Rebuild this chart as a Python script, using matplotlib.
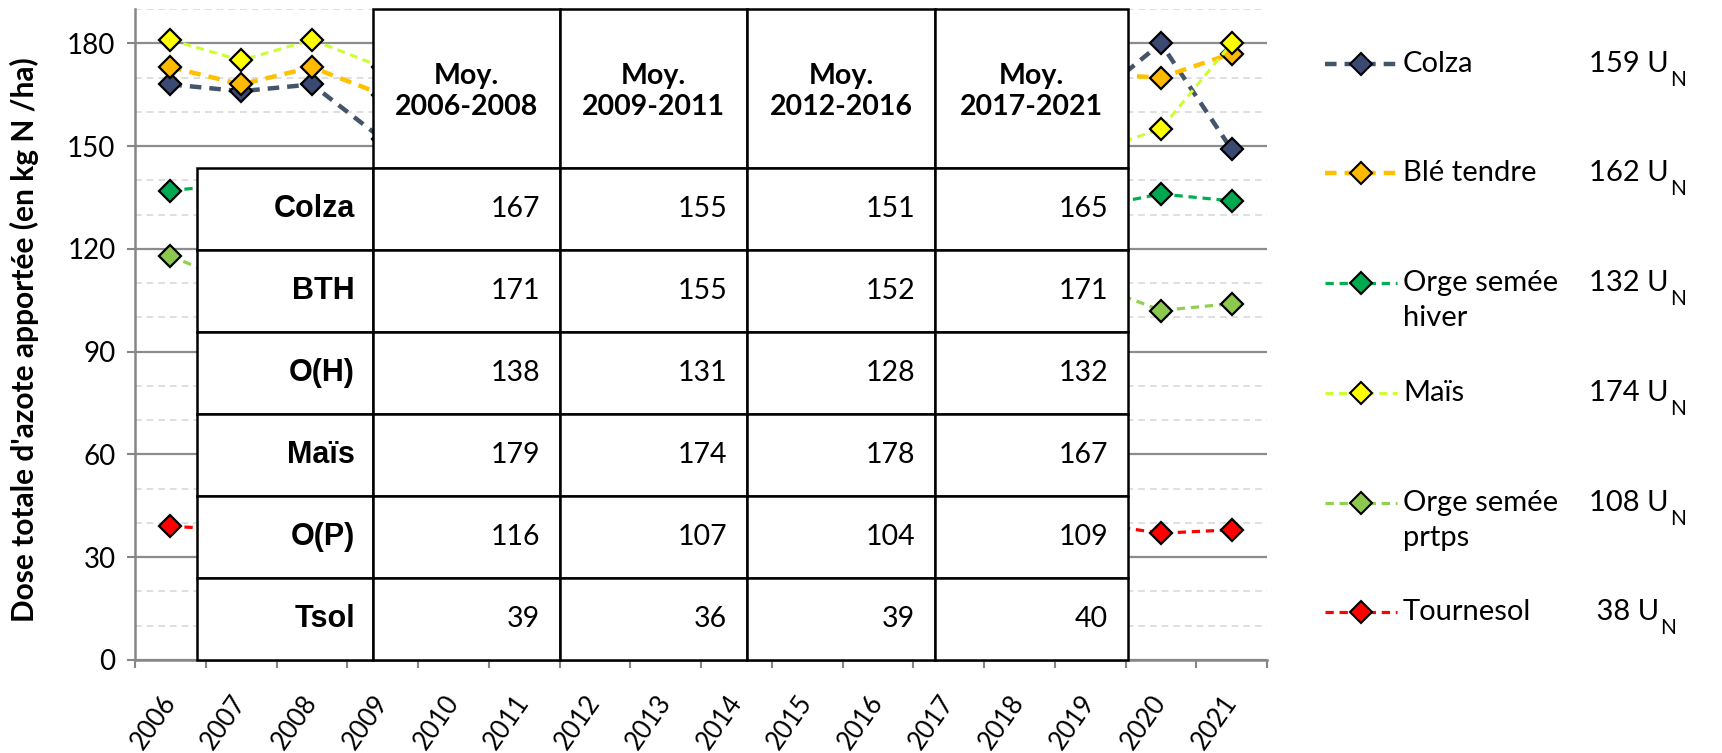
import matplotlib.pyplot as plt
from matplotlib.patches import Rectangle
from matplotlib.ticker import FixedLocator

# --- données ---
years = [str(y) for y in range(2006, 2022)]

colza = [168, 166, 168, 152, 158, 155, 145, 152, 150, 155, 153, 165, 168, 163, 180, 149]
ble = [173, 168, 173, 165, 150, 150, 150, 152, 148, 155, 155, 170, 167, 171, 170, 177]
orge_hiver = [137, 139, 138, 133, 130, 130, 126, 128, 127, 130, 129, 128, 130, 132, 136, 134]
mais = [181, 175, 181, 173, 175, 174, 176, 180, 178, 179, 177, 175, 177, 148, 155, 180]
orge_prtps = [118, 109, 121, 110, 105, 106, 102, 105, 103, 106, 104, 114, 115, 110, 102, 104]
tournesol = [39, 38, 40, 37, 35, 36, 38, 40, 39, 39, 39, 42, 43, 40, 37, 38]

series = [colza, ble, orge_hiver, mais, orge_prtps, tournesol]
series_names = ['Colza', 'Blé tendre', 'Orge semée\nhiver', 'Maïs', 'Orge semée\nprtps', 'Tournesol']
series_means = ['159 U', '162 U', '132 U', '174 U', '108 U', ' 38 U']

# tableau des moyennes
periods = ['Moy.\n2006-2008', 'Moy.\n2009-2011', 'Moy.\n2012-2016', 'Moy.\n2017-2021']
row_labels = ['Colza', 'BTH', 'O(H)', 'Maïs', 'O(P)', 'Tsol']
moy_colza = [167, 155, 151, 165]
moy_bth = [171, 155, 152, 171]
moy_oh = [138, 131, 128, 132]
moy_mais = [179, 174, 178, 167]
moy_op = [116, 107, 104, 109]
moy_tsol = [39, 36, 39, 40]
table_rows = [moy_colza, moy_bth, moy_oh, moy_mais, moy_op, moy_tsol]

# --- styles ---
line_colors = ['#44546A', '#FFC000', '#00B050', '#CCFF33', '#92D050', '#FF0000']
marker_colors = ['#3B4A73', '#FFB900', '#00A84F', '#FFFF00', '#8CC850', '#FF0000']
line_widths = [3.2, 3.2, 2.3, 2.2, 2.3, 2.3]
dash = (0, (2.6, 1.8))
FONT = 'Lato'
plt.rcParams['font.family'] = [FONT, 'DejaVu Sans']

W, H = 1722, 753
fig = plt.figure(figsize=(W / 100, H / 100), dpi=100)
ax = fig.add_axes([135 / W, 1 - 660 / H, (1267 - 135) / W, (660 - 9) / H])

x = list(range(len(years)))
for vals, lc, mc, lw in zip(series, line_colors, marker_colors, line_widths):
    ax.plot(x, vals, color=lc, lw=lw, ls=dash, marker='D', ms=11.5,
            mfc=mc, mec='black', mew=1.6, zorder=3)

ax.set_xlim(-0.5, len(years) - 0.5)
ax.set_ylim(0, 190)
ax.set_yticks(range(0, 181, 30))
ax.yaxis.set_minor_locator(FixedLocator([v for v in range(10, 191, 10) if v % 30]))
ax.grid(True, which='major', axis='y', color='#8C8C8C', lw=1.6)
ax.grid(True, which='minor', axis='y', color='#D9D9D9', lw=1.2, ls=(0, (4, 3)))
ax.set_axisbelow(True)

ax.set_xticks(x)
ax.set_xticklabels(years, rotation=55, ha='right', va='center', rotation_mode='anchor')
ax.xaxis.set_minor_locator(FixedLocator([v - 0.5 for v in range(len(years) + 1)]))
ax.tick_params(axis='x', which='major', length=0, pad=27, labelsize=18.5)
ax.tick_params(axis='x', which='minor', length=6, width=1.5, color='#868686')
ax.tick_params(axis='y', which='major', length=6, width=1.5, color='#868686', labelsize=20, pad=8)
ax.tick_params(axis='y', which='minor', length=0)
for s in ['top', 'right']:
    ax.spines[s].set_visible(False)
for s in ['left', 'bottom']:
    ax.spines[s].set_color('#868686')
    ax.spines[s].set_linewidth(1.8)

# --- couche en pixels pour tableau, légende, titre d'axe ---
ov = fig.add_axes([0, 0, 1, 1])
ov.set_xlim(0, W)
ov.set_ylim(H, 0)
ov.axis('off')
ov.set_facecolor('none')

ov.text(24, 340, "Dose totale d'azote apportée (en kg N /ha)", rotation=90,
        ha='center', va='center', fontsize=21.5, fontweight='bold')

col_edges = [197, 373, 560, 747, 935, 1128]
row_edges = [9, 168, 250, 332, 414, 496, 578, 660]
cell = dict(fc='white', ec='black', lw=1.8, zorder=5)

for j, p in enumerate(periods):
    x0, x1 = col_edges[j + 1], col_edges[j + 2]
    ov.add_patch(Rectangle((x0, row_edges[0]), x1 - x0, row_edges[1] - row_edges[0], **cell))
    ov.text((x0 + x1) / 2, (row_edges[0] + row_edges[1]) / 2 + 3, p, ha='center', va='center',
            fontsize=20.5, fontweight='bold', linespacing=1.25, zorder=6)

for i, (lab, vals) in enumerate(zip(row_labels, table_rows)):
    y0, y1 = row_edges[i + 1], row_edges[i + 2]
    ym = (y0 + y1) / 2
    ov.add_patch(Rectangle((col_edges[0], y0), col_edges[1] - col_edges[0], y1 - y0, **cell))
    ov.text(col_edges[1] - 18, ym, lab, ha='right', va='center', fontsize=22,
            fontweight='bold', family='Liberation Sans', zorder=6)
    for j, v in enumerate(vals):
        x0, x1 = col_edges[j + 1], col_edges[j + 2]
        ov.add_patch(Rectangle((x0, y0), x1 - x0, y1 - y0, **cell))
        ov.text(x1 - 20, ym, str(v), ha='right', va='center', fontsize=20.5, zorder=6)

# légende à droite
leg_y = [64, 173, 283, 393, 503, 612]
for name, mean, lc, mc, lw, y in zip(series_names, series_means, line_colors,
                                      marker_colors, line_widths, leg_y):
    ov.plot([1325, 1397], [y, y], color=lc, lw=lw, ls=dash)
    ov.plot([1361], [y], marker='D', ms=11, mfc=mc, mec='black', mew=1.5, ls='none')
    for k, part in enumerate(name.split('\n')):
        ov.text(1403, y + 35 * k, part, ha='left', va='center', fontsize=21)
    t = ov.text(1589, y, mean, ha='left', va='center', fontsize=21)
    ov.annotate('N', xy=(1, 0.0), xycoords=t, xytext=(1, -2), textcoords='offset points',
                ha='left', va='center', fontsize=15)

fig.savefig('out.png', dpi=100)
